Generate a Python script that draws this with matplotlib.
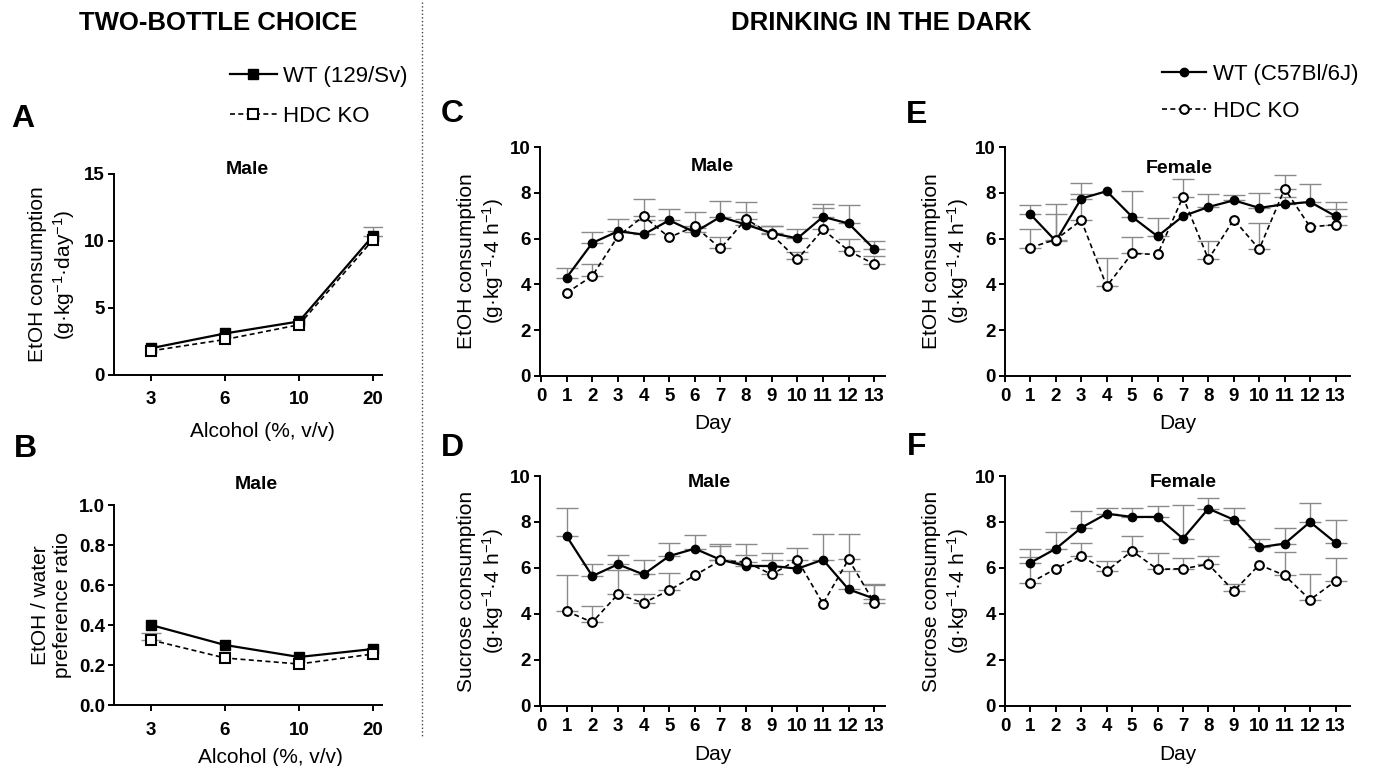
import numpy as np
import matplotlib
matplotlib.use("Agg")
import matplotlib.pyplot as plt
from matplotlib.lines import Line2D

plt.rcParams['font.family'] = ['Liberation Sans', 'DejaVu Sans']
plt.rcParams['mathtext.fontset'] = 'custom'
plt.rcParams['mathtext.rm'] = 'Liberation Sans'
plt.rcParams['mathtext.it'] = 'Liberation Sans'
plt.rcParams['mathtext.bf'] = 'Liberation Sans:bold'

nan = np.nan

# ---- datos: two-bottle choice (A, B)
conc = ['3', '6', '10', '20']
a_wt = [2.0, 3.1, 4.0, 10.4]
a_wt_err = [nan, nan, nan, 0.65]
a_ko = [1.8, 2.65, 3.75, 10.1]
a_ko_err = [nan, nan, nan, nan]
b_wt = [0.40, 0.30, 0.24, 0.28]
b_wt_err = [nan, nan, nan, nan]
b_ko = [0.325, 0.235, 0.205, 0.255]
b_ko_err = [0.035, nan, nan, nan]

# ---- datos: drinking in the dark (C-F)
days = [1, 2, 3, 4, 5, 6, 7, 8, 9, 10, 11, 12, 13]
c_wt = [4.30, 5.81, 6.32, 6.18, 6.80, 6.28, 6.95, 6.61, 6.24, 6.01, 6.95, 6.66, 5.54]
c_wt_err = [0.43, 0.49, 0.54, 0.62, 0.50, 0.20, 0.70, 0.56, 0.33, 0.43, 0.58, 0.80, 0.36]
c_ko = [3.63, 4.37, 6.10, 6.98, 6.05, 6.54, 5.57, 6.85, 6.18, 5.09, 6.40, 5.47, 4.88]
c_ko_err = [nan, 0.51, nan, 0.75, nan, 0.64, 0.51, 0.75, 0.39, 0.33, 0.95, 0.53, 0.35]

d_wt = [7.38, 5.65, 6.16, 5.72, 6.52, 6.84, 6.36, 6.09, 6.09, 5.97, 6.36, 5.07, 4.67]
d_wt_err = [1.22, 0.51, 0.41, 0.64, 0.57, 0.61, 0.70, 0.97, 0.56, nan, 1.10, 0.80, 0.61]
d_ko = [4.12, 3.64, 4.86, 4.48, 5.03, 5.68, 6.33, 6.26, 5.72, 6.36, 4.45, 6.38, 4.49]
d_ko_err = [1.59, 0.69, 1.07, 0.39, 0.75, nan, 0.61, 0.29, 0.64, 0.52, nan, 1.11, 0.80]

e_wt = [7.06, 5.89, 7.75, 8.07, 6.95, 6.10, 6.98, 7.38, 7.67, 7.34, 7.50, 7.60, 6.98]
e_wt_err = [0.40, 1.60, 0.68, nan, 1.13, 0.82, nan, 0.56, 0.22, 0.66, 0.30, 0.80, 0.62]
e_ko = [5.61, 5.96, 6.80, 3.92, 5.35, 5.31, 7.82, 5.10, 6.83, 5.54, 8.18, 6.51, 6.61]
e_ko_err = [0.83, 1.10, 1.14, 1.25, 0.70, nan, 0.77, 0.80, nan, 1.12, 0.61, nan, 0.67]

f_wt = [6.23, 6.84, 7.75, 8.36, 8.22, 8.22, 7.28, 8.58, 8.10, 6.90, 7.06, 8.00, 7.10]
f_wt_err = [0.61, 0.73, 0.71, 0.25, 0.39, 0.48, 1.47, 0.48, 0.52, 0.36, 0.68, 0.84, 0.97]
f_ko = [5.36, 5.97, 6.52, 5.87, 6.74, 5.94, 5.97, 6.16, 5.00, 6.14, 5.68, 4.62, 5.43]
f_ko_err = [1.12, nan, 0.57, 0.43, 0.67, 0.73, 0.46, 0.35, 0.32, nan, 1.03, 1.13, 1.02]

W, H = 1377, 766
fig = plt.figure(figsize=(W / 100, H / 100), dpi=100)


def rect(l, r, t, b):
    return [l / W, 1 - b / H, (r - l) / W, (b - t) / H]


def serie(ax, x, y, err, mk, ms, solid, cap=8):
    y = np.array(y)
    err = np.array(err)
    ok = ~np.isnan(err)
    if ok.any():
        ax.errorbar(np.array(x)[ok], y[ok], yerr=[np.zeros(ok.sum()), err[ok]], fmt='none',
                    ecolor='#8a8a8a', elinewidth=1.0, capsize=cap, capthick=1.0, zorder=1)
    if solid:
        ln, = ax.plot(x, y, color='black', lw=1.6, marker=mk, ms=ms,
                      mfc='black', mec='black', zorder=3, clip_on=False)
    else:
        ln, = ax.plot(x, y, color='black', lw=1.2, ls=(0, (3, 2)), marker=mk,
                      ms=ms, mfc='white', mec='black', mew=1.5, zorder=4, clip_on=False)
    return ln


def estilo(ax, xpad):
    for s in ['top', 'right']:
        ax.spines[s].set_visible(False)
    for s in ['left', 'bottom']:
        ax.spines[s].set_linewidth(1.4)
    ax.tick_params(axis='both', direction='out', length=4.5, width=1.4, labelsize=13.5)
    ax.tick_params(axis='y', pad=2)
    ax.tick_params(axis='x', pad=xpad)
    for lab in ax.get_xticklabels() + ax.get_yticklabels():
        lab.set_fontweight('bold')


# ---- A
axA = fig.add_axes(rect(114, 382, 174, 375))
xc = np.arange(len(conc))
la_wt = serie(axA, xc, a_wt, a_wt_err, 's', 7, True, cap=7)
la_ko = serie(axA, xc, a_ko, a_ko_err, 's', 7, False, cap=7)
axA.set_xlim(-0.5, 3.12)
axA.set_ylim(0, 15)
axA.set_xticks(xc, conc)
axA.set_yticks([0, 5, 10, 15])
estilo(axA, 7)
axA.set_ylabel('EtOH consumption\n(g·kg$^{-1}$·day$^{-1}$)', fontsize=15)
axA.yaxis.set_label_coords(-0.138, 0.5)
axA.set_xlabel('Alcohol (%, v/v)', fontsize=15)
axA.xaxis.set_label_coords(0.555, -0.235)
axA.text(0.496, 1.02, 'Male', transform=axA.transAxes, ha='center', va='center',
         fontsize=14, fontweight='bold')

# ---- B
axB = fig.add_axes(rect(114, 382, 505, 705))
serie(axB, xc, b_wt, b_wt_err, 's', 7, True, cap=7)
serie(axB, xc, b_ko, b_ko_err, 's', 7, False, cap=7)
axB.set_xlim(-0.5, 3.12)
axB.set_ylim(0, 1.0)
axB.set_xticks(xc, conc)
axB.set_yticks([0.0, 0.2, 0.4, 0.6, 0.8, 1.0], ['0.0', '0.2', '0.4', '0.6', '0.8', '1.0'])
estilo(axB, 8)
axB.set_ylabel('EtOH / water\npreference ratio', fontsize=15)
axB.yaxis.set_label_coords(-0.157, 0.5)
axB.set_xlabel('Alcohol (%, v/v)', fontsize=15)
axB.xaxis.set_label_coords(0.585, -0.215)
axB.text(0.53, 1.10, 'Male', transform=axB.transAxes, ha='center', va='center',
         fontsize=14, fontweight='bold')

# ---- C-F
ylab_etoh = 'EtOH consumption\n(g·kg$^{-1}$·4 h$^{-1}$)'
ylab_suc = 'Sucrose consumption\n(g·kg$^{-1}$·4 h$^{-1}$)'
paneles = [
    (rect(540, 885, 147, 376), (-0.04, 13.42), c_wt, c_wt_err, c_ko, c_ko_err, ylab_etoh, 'Male', (0.5, 0.913)),
    (rect(540, 885, 476, 706), (-0.04, 13.42), d_wt, d_wt_err, d_ko, d_ko_err, ylab_suc, 'Male', (0.49, 0.97)),
    (rect(1005, 1350, 147, 376), (0, 13.57), e_wt, e_wt_err, e_ko, e_ko_err, ylab_etoh, 'Female', (0.504, 0.908)),
    (rect(1005, 1350, 476, 706), (0, 13.57), f_wt, f_wt_err, f_ko, f_ko_err, ylab_suc, 'Female', (0.516, 0.97)),
]
lineas_der = None
for i, (r, xl, wt, wte, ko, koe, yl, tit, tpos) in enumerate(paneles):
    ax = fig.add_axes(r)
    l1 = serie(ax, days, wt, wte, 'o', 6, True)
    l2 = serie(ax, days, ko, koe, 'o', 6.3, False)
    if i == 2:
        lineas_der = (l1, l2)
    ax.set_xlim(*xl)
    ax.set_ylim(0, 10)
    ax.set_xticks(range(0, 14))
    ax.set_yticks([0, 2, 4, 6, 8, 10])
    estilo(ax, 4)
    ax.set_ylabel(yl, fontsize=15)
    ax.yaxis.set_label_coords(-0.098, 0.5)
    ax.set_xlabel('Day', fontsize=15)
    ax.xaxis.set_label_coords(0.5, -0.168)
    ax.text(tpos[0], tpos[1], tit, transform=ax.transAxes, ha='center', va='center',
            fontsize=14, fontweight='bold')

# ---- leyendas
fig.legend([la_wt, la_ko], ['WT (129/Sv)', 'HDC KO'], loc='upper left',
           bbox_to_anchor=(230 / W, 1 - 66 / H), frameon=False, fontsize=16,
           handlelength=2.1, handletextpad=0.3, labelspacing=0.86,
           borderpad=0, borderaxespad=0)
fig.legend(list(lineas_der), ['WT (C57Bl/6J)', 'HDC KO'], loc='upper left',
           bbox_to_anchor=(1162 / W, 1 - 64 / H), frameon=False, fontsize=16,
           handlelength=2.0, handletextpad=0.3, labelspacing=0.73,
           borderpad=0, borderaxespad=0)

# ---- titulos y letras
fig.text(218 / W, 1 - 23 / H, 'TWO-BOTTLE CHOICE', ha='center', va='center',
         fontsize=18.5, fontweight='bold')
fig.text(881 / W, 1 - 23 / H, 'DRINKING IN THE DARK', ha='center', va='center',
         fontsize=18.5, fontweight='bold')
letras = [('A', 23, 119), ('B', 25, 449), ('C', 452, 114), ('D', 452, 448),
          ('E', 917, 115), ('F', 917, 447)]
for let, lx, ly in letras:
    fig.text(lx / W, 1 - ly / H, let, ha='center', va='center', fontsize=23, fontweight='bold')

# separador punteado
fig.add_artist(Line2D([422 / W, 422 / W], [1 - 2 / H, 1 - 737 / H], ls=':', lw=1.0, color='#444444'))

fig.savefig('out.png', dpi=100)
